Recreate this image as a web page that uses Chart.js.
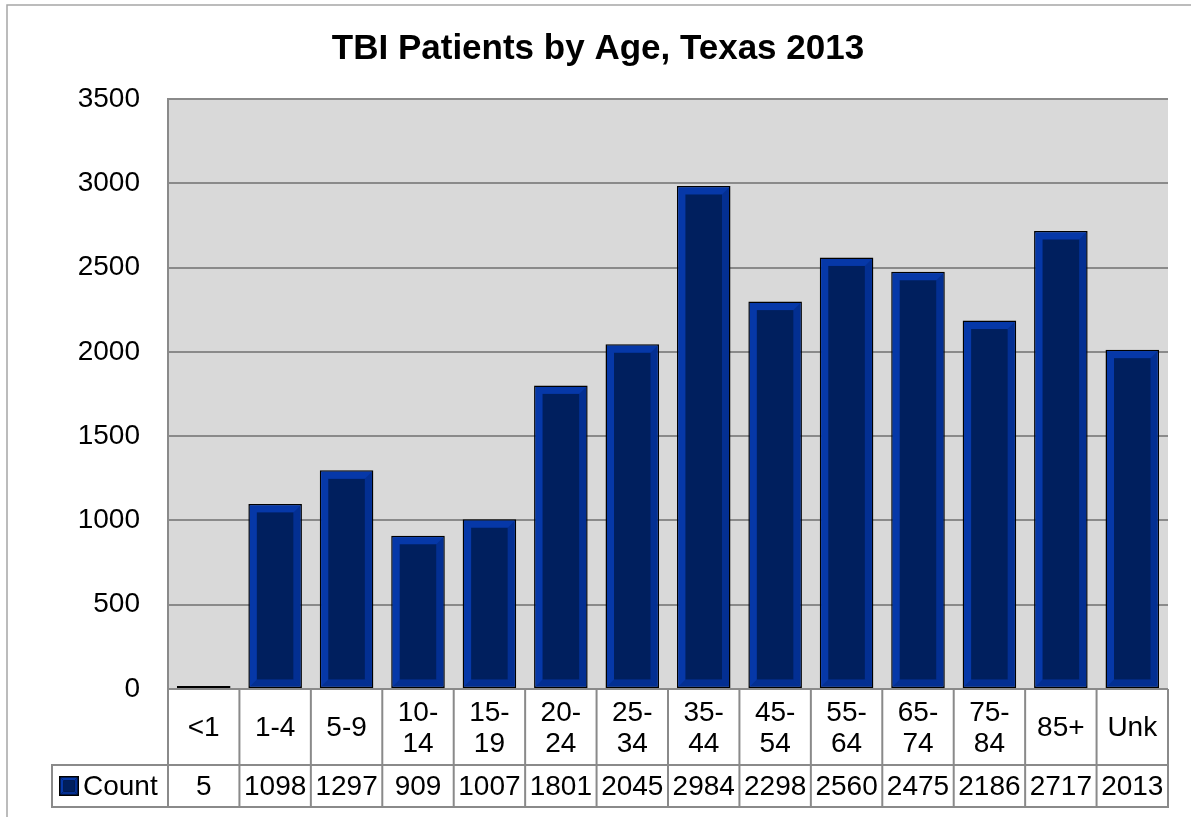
<!DOCTYPE html>
<html lang="en">
<head>
    <meta charset="UTF-8">
    <title>TBI Patients by Age, Texas 2013</title>
    <style>
        body {
            margin: 0;
            padding: 0;
            background-color: #ffffff;
        }
        .chart-box {
            width: 1191px;
            height: 817px;
        }
    </style>
    <script src="https://cdn.jsdelivr.net/npm/chart.js"></script>
</head>
<body>
    <div class="chart-box">
        <canvas id="myCanvas" width="1191" height="817"></canvas>
    </div>

    <script>
        const chartTitle = 'TBI Patients by Age, Texas 2013';
        const seriesName = 'Count';
        const categories = ['<1', '1-4', '5-9', '10-14', '15-19', '20-24', '25-34', '35-44',
                            '45-54', '55-64', '65-74', '75-84', '85+', 'Unk'];
        const counts = [5, 1098, 1297, 909, 1007, 1801, 2045, 2984, 2298, 2560, 2475, 2186, 2717, 2013];
        const yTicks = [0, 500, 1000, 1500, 2000, 2500, 3000, 3500];

        const FONT = "'Liberation Sans', Arial, sans-serif";
        const LINE = '#8a8a8a';
        const BEVEL_LIGHT = '#0638a8';
        const BEVEL_DARK = '#032f92';
        const FILL = '#001f5e';

        // Excel wraps "10-14" after the hyphen
        function labelLines(label) {
            if (label.length > 3 && label.indexOf('-') > 0) {
                const k = label.indexOf('-') + 1;
                return [label.slice(0, k), label.slice(k)];
            }
            return [label];
        }

        function poly(ctx, pts, color) {
            ctx.fillStyle = color;
            ctx.beginPath();
            ctx.moveTo(pts[0][0], pts[0][1]);
            for (let i = 1; i < pts.length; i++) ctx.lineTo(pts[i][0], pts[i][1]);
            ctx.closePath();
            ctx.fill();
        }

        // bevelled box inside an already drawn bar (outline is drawn by Chart.js)
        function drawBevel(ctx, l, t, r, b, w) {
            if (b - t < 2 * w + 2 || r - l < 2 * w + 2) {
                return;
            }
            poly(ctx, [[l, t], [r, t], [r - w, t + w], [l + w, t + w]], BEVEL_LIGHT);
            poly(ctx, [[l, t], [l + w, t + w], [l + w, b - w], [l, b]], BEVEL_LIGHT);
            poly(ctx, [[r, t], [r, b], [r - w, b - w], [r - w, t + w]], BEVEL_DARK);
            poly(ctx, [[l, b], [l + w, b - w], [r - w, b - w], [r, b]], BEVEL_DARK);
            ctx.fillStyle = FILL;
            ctx.fillRect(l + w, t + w, r - l - 2 * w, b - t - 2 * w);
        }

        const framePlugin = {
            id: 'frame',
            beforeDraw(chart) {
                const ctx = chart.ctx;
                const a = chart.chartArea;
                ctx.save();
                ctx.fillStyle = '#ffffff';
                ctx.fillRect(0, 0, chart.width, chart.height);
                ctx.strokeStyle = '#a6a6a6';
                ctx.lineWidth = 1.5;
                ctx.strokeRect(7, 5, chart.width + 50, chart.height + 50);
                ctx.fillStyle = '#d9d9d9';
                ctx.fillRect(a.left, a.top, a.right - a.left, a.bottom - a.top);

                ctx.fillStyle = '#000000';
                ctx.font = 'bold 35px ' + FONT;
                ctx.textAlign = 'center';
                ctx.textBaseline = 'middle';
                ctx.fillText(chartTitle, 598, 49);
                ctx.restore();
            },
            afterDatasetsDraw(chart) {
                const ctx = chart.ctx;
                const meta = chart.getDatasetMeta(0);
                ctx.save();
                meta.data.forEach(bar => {
                    const p = bar.getProps(['x', 'y', 'base', 'width'], true);
                    const bw = 1.5;
                    const left = p.x - p.width / 2 + bw;
                    const right = p.x + p.width / 2 - bw;
                    const top = Math.min(p.y, p.base) + bw;
                    const bottom = Math.max(p.y, p.base) - bw;
                    drawBevel(ctx, left, top, right, bottom, 7);
                });
                ctx.restore();
            },
            afterDraw(chart) {
                const ctx = chart.ctx;
                const a = chart.chartArea;
                const xs = chart.scales.x;
                const n = categories.length;
                const colW = (a.right - a.left) / n;
                const row1Bottom = a.bottom + 76;
                const row2Bottom = row1Bottom + 42;
                const legendLeft = 52;

                ctx.save();
                ctx.strokeStyle = LINE;
                ctx.lineWidth = 2;
                ctx.beginPath();
                for (let i = 0; i <= n; i++) {
                    const x = a.left + i * colW;
                    ctx.moveTo(x, a.bottom);
                    ctx.lineTo(x, row2Bottom);
                }
                ctx.moveTo(legendLeft, row1Bottom);
                ctx.lineTo(a.right + 1, row1Bottom);
                ctx.moveTo(legendLeft, row2Bottom);
                ctx.lineTo(a.right + 1, row2Bottom);
                ctx.moveTo(legendLeft, row1Bottom - 1);
                ctx.lineTo(legendLeft, row2Bottom + 1);
                ctx.stroke();

                ctx.fillStyle = '#000000';
                ctx.font = '28px ' + FONT;
                ctx.textAlign = 'center';
                ctx.textBaseline = 'middle';
                const rowMid = (a.bottom + row1Bottom) / 2;
                const valMid = (row1Bottom + row2Bottom) / 2;
                categories.forEach((c, i) => {
                    const x = xs.getPixelForValue(i);
                    const lines = labelLines(c);
                    if (lines.length === 1) {
                        ctx.fillText(lines[0], x, rowMid + 1);
                    } else {
                        ctx.fillText(lines[0], x, rowMid - 14);
                        ctx.fillText(lines[1], x, rowMid + 17);
                    }
                    ctx.fillText(String(counts[i]), x, valMid + 1);
                });

                // legend key
                const kx = 59, ky = valMid - 10, ks = 20;
                ctx.fillStyle = '#000000';
                ctx.fillRect(kx, ky, ks, ks);
                drawBevel(ctx, kx + 1.5, ky + 1.5, kx + ks - 1.5, ky + ks - 1.5, 3);
                ctx.fillStyle = '#000000';
                ctx.textAlign = 'left';
                ctx.fillText(seriesName, 83, valMid + 1);
                ctx.restore();
            }
        };

        const ctx = document.getElementById('myCanvas').getContext('2d');

        const chart = new Chart(ctx, {
            type: 'bar',
            data: {
                labels: categories,
                datasets: [{
                    label: seriesName,
                    data: counts,
                    backgroundColor: BEVEL_LIGHT,
                    borderColor: '#000000',
                    borderWidth: 1.5,
                    borderSkipped: false,
                    minBarLength: 3,
                    categoryPercentage: 1.0,
                    barPercentage: 0.75
                }]
            },
            options: {
                responsive: false,
                animation: false,
                layout: {
                    padding: { left: 0, right: 23, top: 99, bottom: 128 }
                },
                scales: {
                    x: {
                        display: false
                    },
                    y: {
                        min: 0,
                        max: 3500,
                        afterFit(scale) {
                            scale.width = 168;
                        },
                        afterBuildTicks(scale) {
                            scale.ticks = yTicks.map(v => ({ value: v }));
                        },
                        ticks: {
                            padding: 28,
                            color: '#000000',
                            font: { size: 28, family: FONT },
                            callback: v => String(v)
                        },
                        grid: {
                            color: LINE,
                            lineWidth: 2,
                            drawTicks: false
                        },
                        border: {
                            display: true,
                            color: LINE,
                            width: 2
                        }
                    }
                },
                plugins: {
                    legend: { display: false },
                    tooltip: { enabled: false },
                    title: { display: false }
                }
            },
            plugins: [framePlugin]
        });
    </script>
</body>
</html>
